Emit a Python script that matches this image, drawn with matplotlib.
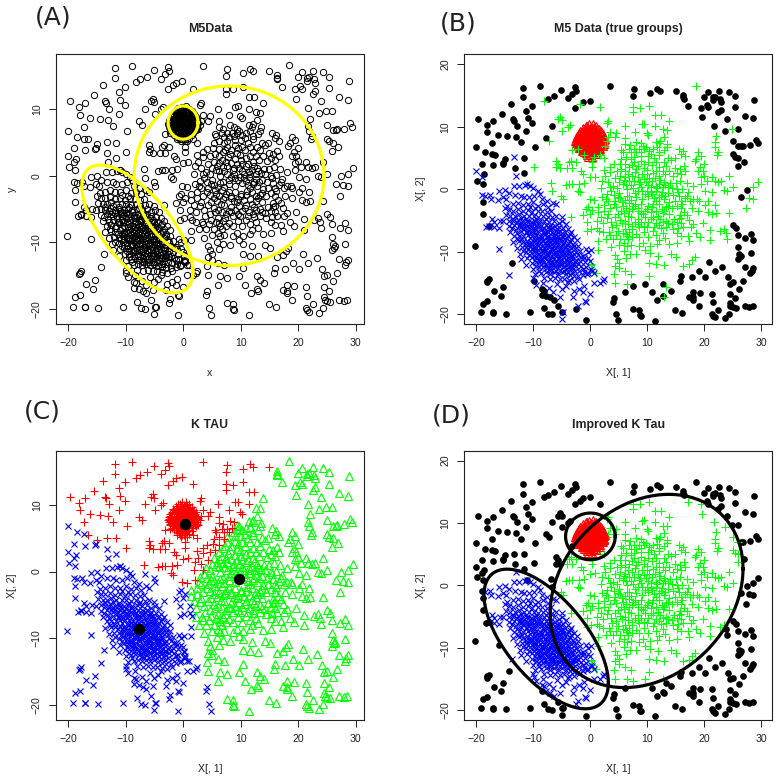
import numpy as np
import matplotlib
matplotlib.use('Agg')
import matplotlib.pyplot as plt

plt.rcParams['font.family'] = ['Liberation Sans', 'DejaVu Sans']

noise_pts = [
(-11.8,16.2),(-8.8,16.5),(-5.1,15.9),(-2.7,16.3),(-2.4,15.8),(-3.1,15.3),(-3.9,14.6),(-6.3,14.9),(-7.4,14.5),
(-11.8,14.7),(-13.9,13.6),(-10.1,13.4),(-11.2,12.6),(-15.4,12.1),(-19.6,11.2),(-17.1,11.0),(-13.5,11.2),(-13.4,11.0),
(-10.9,11.4),(-18.1,10.3),(-12.8,10.1),(-10.1,10.6),(-6.7,10.1),(-18.0,9.2),(-11.2,9.3),(-16.1,8.7),(-14.5,8.5),
(-13.0,8.4),(-7.7,8.2),(-12.1,7.5),(-17.2,7.4),(-20.0,6.8),(-9.7,6.8),(-18.4,5.9),(-17.2,5.6),(-16.6,5.5),(-15.0,4.8),
(-15.2,4.2),(-11.6,5.0),(-18.9,4.1),(-17.1,3.9),(-15.3,4.0),(-13.2,3.4),(-18.6,2.5),(-11.6,2.6),(-19.8,1.3),(-18.8,0.9),
(-18.8,-2.1),(-18.8,-4.0),(-17.8,-5.9),(-20.2,-9.0),(-13.7,-11.8),(-9.9,-14.7),(-17.7,-14.4),(-18.0,-14.6),(-18.1,-14.8),
(-15.3,-15.7),(-16.8,-16.3),(-15.7,-17.0),(-18.8,-18.3),(-18.0,-17.9),(-19.2,-19.7),(-17.1,-19.7),(-17.0,-19.8),
(-14.8,-19.9),(-10.5,-19.7),(-8.5,-16.0),(-8.1,-16.2),(-8.5,-16.9),(-7.7,-17.0),(-7.0,-17.3),(-6.4,-17.7),(-5.6,-18.7),
(-8.0,-19.0),(-7.3,-19.9),(-6.6,-20.0),(-4.9,-19.7),(-2.5,-19.1),(-0.8,-20.9),(-1.2,14.0),(-0.1,14.2),(-2.6,13.0),
(3.5,16.5),(7.7,16.0),(7.5,15.0),(10.5,15.4),(11.7,16.1),(12.2,15.7),(15.0,15.7),(16.3,15.1),(16.3,14.7),(16.4,14.5),
(17.2,13.4),(20.7,15.6),(20.0,14.8),(22.6,15.7),(24.3,15.6),(25.4,14.9),(21.6,14.7),(21.9,14.8),(21.5,14.3),(22.7,14.5),
(22.9,14.0),(20.4,13.5),(20.7,13.1),(19.5,13.0),(25.4,13.2),(23.0,12.7),(22.5,12.3),(19.6,11.5),(27.1,11.8),(28.8,14.3),
(28.6,11.4),(24.0,11.2),(21.7,10.2),(25.9,9.7),(23.7,9.4),(25.0,7.7),(29.0,7.9),(29.4,7.4),(28.0,7.1),(26.0,6.9),(26.5,6.9),
(26.8,7.0),(25.1,5.6),(25.4,5.2),(26.0,5.0),(25.9,3.7),(27.0,4.3),(27.5,-0.1),(26.5,-1.3),(25.1,-5.7),(25.5,-6.2),
(25.9,-7.3),(28.2,-7.1),(27.2,-7.8),(28.6,-8.1),(25.9,-9.2),(28.2,-10.2),(26.1,-10.3),(26.4,-10.6),(25.9,-11.2),(26.3,-10.8),
(27.1,-12.5),(28.6,-12.6),(28.4,-13.0),(28.1,-13.4),(20.9,-11.7),(23.2,-12.4),(19.1,-13.1),(21.8,-13.1),(17.8,-14.0),
(20.2,-14.0),(24.2,-14.1),(25.1,-14.9),(24.5,-15.1),(26.8,-14.6),(26.1,-15.9),(15.9,-13.9),(15.8,-14.6),(7.6,-15.4),
(9.7,-15.1),(12.8,-15.1),(14.1,-16.2),(12.8,-17.1),(10.8,-16.5),(11.8,-17.7),(6.1,-16.4),(4.2,-17.4),(4.0,-18.0),
(18.1,-16.5),(17.3,-17.2),(18.1,-17.3),(19.3,-16.6),(18.0,-17.7),(21.3,-16.7),(21.5,-18.1),(24.5,-16.8),(25.4,-17.4),
(19.0,-18.7),(24.5,-18.2),(24.6,-18.7),(25.1,-18.9),(25.5,-19.0),(22.5,-19.3),(27.1,-18.7),(27.9,-18.8),(28.5,-18.7),
(7.6,-19.2),(8.6,-19.3),(8.7,-20.1),(8.9,-20.2),(14.9,-19.3),(16.1,-19.8),(21.3,-19.9),(21.6,-20.2),(21.9,-20.5),
(24.4,-19.9),(23.6,-20.6),(4.5,-19.9),(4.9,-20.9),(11.4,-21.0),
]

red_pts = [
(-0.2,10.4),(0.5,10.5),(-0.8,10.2),(1.0,10.1),(0.1,10.0),(-1.2,9.8),(-0.4,9.8),(0.7,9.7),(1.5,9.7),(-1.7,9.4),(-0.9,9.4),
(0.0,9.5),(1.1,9.3),(1.9,9.3),(-2.0,9.0),(-1.3,9.1),(-0.5,9.0),(0.4,9.1),(1.5,8.9),(2.2,8.9),(-2.3,8.6),(-1.6,8.6),
(-0.8,8.7),(0.1,8.6),(0.9,8.7),(1.8,8.5),(2.4,8.4),(-2.5,8.2),(-1.9,8.2),(-1.1,8.3),(-0.3,8.2),(0.5,8.3),(1.3,8.2),
(2.0,8.1),(2.6,8.0),(-2.6,7.8),(-1.7,7.8),(-0.9,7.8),(-0.1,7.8),(0.8,7.9),(1.6,7.7),(2.3,7.7),(-2.4,7.4),(-1.9,7.4),
(-1.2,7.4),(-0.5,7.5),(0.3,7.4),(1.1,7.4),(1.9,7.3),(2.5,7.2),(-2.2,7.0),(-1.5,7.0),(-0.7,7.1),(0.0,7.0),(0.7,7.0),
(1.4,7.0),(2.2,6.9),(-1.9,6.6),(-1.1,6.7),(-0.3,6.6),(0.4,6.7),(1.1,6.6),(1.8,6.5),(-1.5,6.2),(-0.8,6.3),(0.0,6.2),
(0.8,6.3),(1.5,6.1),(-1.0,5.9),(-0.2,5.8),(0.5,5.9),(1.0,5.7),(-0.6,5.5),(0.2,5.5),(-0.3,5.2),(0.3,5.2),(-1.5,8.0),
(-0.6,8.5),(0.3,8.0),(1.0,8.5),(-1.4,7.6),(0.6,7.6),(-0.2,7.2),(1.6,8.0),(-0.4,6.9),(1.0,6.9),(-2.0,7.7),(-1.0,9.0),
(0.6,8.9),(0.2,9.3),(-0.1,6.4),(-1.3,6.5),(0.9,7.2),(1.3,7.6),(-0.7,7.3),(-1.6,8.4),(2.1,7.5),(0.0,8.4),(-0.3,9.2),
(1.3,9.0),(-1.8,7.1),(0.4,6.4),(-2.2,8.4),(0.7,10.0),(-0.5,10.1),
(-1.1,9.6),(0.3,9.8),(1.2,9.6),(-0.2,9.6),(-1.5,9.2),(-0.7,9.2),(0.8,9.2),(1.7,9.1),(-1.9,8.8),(-1.2,8.8),(-0.2,8.9),
(0.3,8.8),(1.2,8.7),(2.0,8.7),(-2.1,8.0),(-1.3,8.1),(-0.5,8.0),(0.1,8.2),(0.8,8.1),(1.5,8.4),(2.3,8.2),(-2.3,7.6),
(-1.6,7.3),(-1.1,7.9),(-0.3,7.6),(0.4,7.7),(1.0,7.7),(1.8,7.9),(2.4,7.5),(-1.9,7.0),(-1.3,7.2),(-0.9,6.9),(-0.1,7.4),
(0.5,7.2),(1.2,7.2),(1.7,7.1),(-1.7,6.8),(-0.8,6.6),(0.1,6.8),(0.8,6.8),(1.5,6.6),(-1.2,6.3),(-0.5,6.2),(0.3,6.1),
(1.1,6.2),(-0.7,5.8),(0.1,5.9),(0.7,5.6),(-0.1,5.5),(-2.4,7.9),(-2.2,7.2),(2.4,7.9),(2.0,7.0),(-0.6,9.5),(0.5,9.4),
]

green_pts = [
(18.5,16.6),(-8.1,14.1),(-1.7,13.6),(1.8,13.1),(10.4,13.4),(8.7,13.0),(7.5,13.1),(7.5,12.3),(11.4,11.9),(12.4,11.9),
(13.9,11.0),(3.1,11.0),(2.9,10.6),(-5.2,11.6),(-5.0,11.1),(-5.6,11.2),(-3.5,10.3),(-3.8,10.0),(-4.9,9.3),(-7.2,7.7),
(4.6,9.0),(3.5,9.2),(6.1,10.1),(9.1,10.4),(9.5,10.5),(11.4,10.1),(12.7,9.6),(13.4,9.5),(12.9,8.4),(9.9,9.0),(10.2,8.7),
(7.9,9.2),(6.2,8.2),(4.4,8.3),(2.9,7.7),(3.2,8.3),(2.6,7.0),(11.5,7.6),(12.0,7.4),(12.2,7.8),(13.5,7.3),(13.4,6.8),
(8.9,7.4),(9.3,7.0),(7.0,7.1),(6.2,7.3),(5.5,6.3),(5.8,6.0),(7.7,6.4),(8.5,6.5),(9.4,6.4),(10.3,6.2),(11.0,6.5),(12.1,6.0),
(13.0,6.3),(15.5,6.5),(16.2,6.1),(15.9,5.7),(16.6,5.3),(14.8,5.0),(13.7,5.0),(14.2,4.7),(12.1,5.5),(11.2,5.0),(10.1,5.4),
(9.0,5.4),(7.7,5.2),(6.3,5.2),(5.4,4.9),(-3.2,6.3),(-2.2,6.4),(-1.0,5.5),(0.6,5.2),(1.8,5.5),(2.4,5.0),(0.3,4.4),(0.4,3.5),
(-5.9,4.6),(-5.7,4.0),(-5.3,3.4),(-6.0,3.5),(-4.0,3.4),(-3.7,4.3),(-3.3,4.6),(-2.4,4.3),(-3.2,3.4),(-1.6,3.0),(-1.2,2.5),
(-9.9,3.6),(6.2,4.0),(5.2,4.1),(4.2,4.0),(3.5,3.6),(2.5,3.1),(2.6,2.1),(3.5,2.8),(4.7,3.0),(5.5,3.2),(6.9,3.5),(7.7,4.4),
(8.4,3.8),(9.5,4.1),(10.8,3.9),(12.1,3.6),(13.3,3.8),(14.9,3.4),(16.4,3.7),(16.7,2.9),(18.3,4.5),(18.9,5.9),(18.6,4.9),
(19.5,5.4),(19.2,3.6),(20.0,4.1),(19.7,3.0),(19.9,2.2),(18.9,3.0),(19.4,1.9),(20.5,1.3),(21.3,2.0),(21.8,1.3),(22.4,1.2),
(22.9,1.3),(24.4,2.1),(25.0,0.3),(24.0,-0.2),(23.5,-0.1),(21.9,6.8),(22.4,6.0),(22.3,5.5),(21.8,7.5),(22.0,8.6),(24.9,9.7),
(29.5,1.2),(28.6,0.3),(27.8,-1.4),(28.6,-1.5),(27.3,-3.0),(24.3,-3.8),(22.0,-3.8),(21.9,-2.5),(21.3,-3.9),(20.6,-3.7),
(20.1,-2.5),(20.7,-1.8),(21.4,-0.5),(20.2,-0.2),(19.5,0.8),(18.0,0.6),(16.9,1.0),(15.8,1.3),(15.0,1.0),(15.2,0.0),(14.6,2.2),
(13.2,2.4),(12.1,2.1),(11.0,2.6),(10.0,2.4),(9.1,2.5),(7.8,2.8),(6.7,2.4),(5.3,2.1),(4.3,1.8),(3.2,1.1),(2.0,1.4),(0.9,2.0),
(0.0,1.9),(-1.0,1.0),(-1.9,0.9),(-3.1,0.8),(-3.7,0.8),(-4.3,0.7),(-6.8,1.0),(-11.0,0.8),(-2.1,-0.2),(-1.8,-0.5),(-6.6,-0.3),
(-5.1,-1.0),(-4.8,-1.5),(1.9,0.2),(4.0,0.5),(5.7,0.9),(6.9,1.3),(7.7,1.4),(8.8,1.2),(9.8,1.1),(10.9,1.4),(12.0,0.8),(13.1,0.7),
(14.0,1.0),(16.1,0.1),(17.2,-0.5),(17.0,-1.0),(18.0,-1.6),(18.7,-1.6),(19.0,-1.8),(17.5,-1.9),(16.0,-1.8),(14.8,-1.8),
(13.7,-0.6),(12.6,-0.5),(11.5,-0.2),(10.6,-0.4),(9.6,-0.7),(8.4,-0.2),(7.6,0.2),(6.4,0.0),(5.1,-0.6),(4.2,-0.9),(3.0,-0.8),
(2.1,-1.2),(0.7,-1.7),(-0.1,-1.6),(-0.3,-2.8),(-0.7,-3.1),(0.4,-3.3),(1.4,-2.8),(2.4,-2.5),(3.1,-1.9),(4.3,-1.8),(5.3,-1.4),
(6.1,-1.7),(6.9,-1.0),(8.0,-1.3),(9.1,-1.5),(10.2,-1.1),(11.2,-1.4),(12.1,-1.2),(12.9,-1.6),(13.9,-2.0),(15.2,-2.6),(15.9,-3.0),
(14.4,-3.0),(13.3,-2.9),(12.0,-2.4),(11.1,-2.3),(10.1,-2.7),(9.0,-2.4),(7.9,-2.4),(6.8,-2.2),(5.8,-2.7),(4.6,-2.9),(3.5,-3.0),
(2.4,-3.4),(1.3,-3.7),(0.0,-4.0),(-1.2,-4.1),(-3.3,-4.4),(1.9,-4.4),(3.0,-4.6),(4.3,-4.4),(5.9,-3.8),(6.9,-3.5),(8.4,-3.4),
(9.6,-3.5),(10.6,-3.6),(11.6,-3.5),(12.7,-3.8),(13.8,-4.0),(15.7,-4.1),(16.5,-3.6),(17.0,-4.1),(17.8,-3.0),(18.9,-3.4),
(15.6,-4.7),(14.7,-4.7),(12.3,-4.7),(11.0,-4.4),(9.7,-4.5),(8.4,-4.7),(7.1,-4.4),(5.3,-4.9),(3.6,-5.2),(2.3,-5.4),(1.2,-5.1),
(-0.6,-5.2),(-0.6,-6.7),(0.1,-6.3),(1.2,-6.2),(1.6,-6.6),(3.8,-6.0),(4.6,-5.7),(5.6,-5.4),(6.7,-5.5),(7.9,-5.3),(9.0,-5.2),
(10.2,-5.3),(11.5,-5.4),(12.7,-5.2),(13.7,-5.4),(15.9,-5.4),(17.3,-4.9),(19.7,-5.4),(18.1,-5.6),(17.6,-6.0),(16.3,-6.1),
(15.4,-6.2),(14.5,-6.3),(13.3,-6.1),(12.4,-6.2),(11.2,-6.0),(9.9,-6.1),(8.6,-6.0),(7.3,-6.3),(6.1,-6.4),(4.9,-6.6),(3.3,-6.9),
(2.3,-6.9),(3.4,-7.3),(4.5,-7.3),(5.8,-7.0),(6.9,-6.8),(8.0,-7.1),(9.5,-6.8),(11.6,-7.3),(12.7,-7.0),(15.2,-7.0),(16.0,-7.4),
(17.1,-7.4),(18.6,-7.0),(19.3,-7.6),(21.0,-6.5),(22.8,-6.7),(23.5,-6.3),(23.8,-7.0),(21.0,-8.1),(24.0,-7.9),(17.4,-8.3),
(15.2,-8.6),(13.9,-8.8),(11.7,-8.7),(10.5,-9.0),(9.3,-8.6),(8.6,-9.1),(6.7,-8.0),(6.0,-8.6),(5.0,-8.9),(4.0,-8.0),(2.7,-8.0),
(1.3,-8.3),(1.4,-9.7),(3.6,-9.3),(5.9,-9.9),(7.0,-10.3),(8.1,-10.4),(9.7,-9.7),(10.5,-10.2),(11.9,-10.6),(14.2,-10.4),
(15.1,-10.8),(18.3,-10.9),(17.9,-11.3),(17.4,-11.9),(16.3,-12.2),(13.0,-12.1),(11.6,-12.0),(10.4,-11.8),(6.3,-11.0),
(4.4,-10.5),(4.7,-11.2),(5.0,-11.8),(4.4,-12.2),(5.0,-12.6),(0.2,-11.9),(0.4,-12.7),(0.1,-12.1),(1.0,-13.4),(4.1,-13.6),
(6.1,-13.1),(7.2,-13.5),(10.4,-13.9),(4.3,-15.0),(6.4,-15.1),(13.3,-15.7),(13.0,-17.3),(8.4,-3.0),(9.9,-0.2),(7.2,0.7),
(6.2,1.9),(8.9,0.3),(10.6,0.3),(11.5,0.6),(7.5,-2.7),(6.6,-4.3),(9.3,-4.0),(10.9,-2.9),(12.6,-3.1),(4.9,-4.0),(3.1,-3.9),
(14.3,0.2),(13.2,-1.0),(12.3,1.5),(9.4,3.4),(7.1,5.9),(8.1,7.6),(5.0,1.2),(3.4,0.3),
(11.7,0.2),(12.4,-0.9),(10.9,-0.8),(11.6,-1.8),(12.7,0.3),(10.2,0.7),(9.1,-0.3),(8.6,0.8),(7.9,-0.6),(7.1,-1.7),(6.4,-1.1),
(5.6,-2.1),(4.9,-1.3),(4.1,-2.4),(5.4,-3.4),(6.3,-3.0),(7.3,-3.2),(8.9,-3.8),(10.0,-3.1),(11.9,-4.2),(13.0,-3.4),(13.7,-2.6),
(14.6,-0.9),(15.6,-1.1),(16.6,-1.4),(15.4,-0.4),(13.6,0.4),(12.9,1.2),(11.3,1.8),(10.3,1.8),(9.4,1.7),(8.4,1.9),(7.4,2.1),
(5.9,1.5),(4.7,0.2),(3.7,-0.3),(2.7,-1.6),(6.3,0.7),(8.1,3.2),(9.9,3.1),(11.6,3.0),(12.7,3.0),(13.9,2.9),(15.3,2.6),(15.7,3.2),
(16.0,2.4),(6.2,3.0),(7.3,3.9),(10.2,4.4),(11.6,4.4),(12.9,4.4),(9.0,4.6),(8.0,5.9),(8.9,6.0),(10.7,5.7),(9.8,6.8),(11.7,6.7),
(7.2,4.9),(6.8,6.4),(6.1,-5.1),(7.4,-5.8),(8.4,-5.5),(9.5,-5.8),(10.7,-4.8),(11.0,-6.6),(12.1,-5.7),(13.3,-5.0),(14.3,-5.6),
(15.3,-5.3),(15.9,-4.6),(16.1,-2.3),(6.5,-7.5),(7.4,-7.6),(5.3,-8.0),(6.3,-7.1),(8.6,-7.6),(10.2,-7.6),(12.0,-8.1),(13.1,-7.8),
(6.4,-9.1),(7.2,-8.9),
]

blue_pts = [
(-20.0,2.9),(-18.9,2.0),(-13.3,5.1),(-13.0,2.1),(-13.4,0.6),(-11.0,0.9),(-18.9,-0.9),(-18.5,-1.1),(-16.0,-0.2),(-15.0,-0.1),
(-16.0,-9.5),(-14.3,-13.7),(-18.2,-6.0),(-17.7,-5.8),(-17.2,-4.7),(-16.8,-5.2),(-16.9,-6.1),(-15.8,-5.0),(-16.0,-6.2),(-5.0,-20.8),
(-4.7,-19.7),(-2.2,-18.6),(-0.9,-17.9),(-0.7,-18.1),(0.0,-16.8),(-1.2,-16.5),(-2.0,-16.0),(-2.8,-16.3),(-3.0,-17.2),(-1.0,-15.5),
(0.7,-15.0),(1.7,-15.0),(2.2,-14.6),(2.5,-14.3),(-5.0,-16.0),(-4.3,-15.5),(-5.8,-15.2),(-7.2,-15.8),(-8.3,-15.0),(-9.5,-15.3),
(-10.0,-14.2),(-6.5,-16.5),(-5.2,-17.2),(-3.9,-14.9),(-15.2,-1.3),(-14.2,-0.6),(-17.3,-1.6),(-17.5,-0.9),(-16.2,-1.7),(-14.7,-1.6),
(-13.2,-0.9),(-12.4,0.6),(-11.4,0.7),(-10.6,0.6),(-10.0,0.2),(-9.2,-0.2),(-8.8,-0.7),(-9.8,-1.0),(-10.7,-1.2),(-11.6,-1.3),
(-12.1,-1.0),(-8.5,-1.6),(-7.6,-1.8),(-6.5,-2.2),(-5.9,-2.4),(-14.5,-2.6),(-13.6,-2.4),(-12.7,-2.2),(-11.8,-2.5),(-10.9,-2.4),
(-10.0,-2.1),(-9.1,-2.6),(-8.2,-2.4),(-7.3,-2.8),(-15.0,-3.0),(-14.3,-3.3),(-13.5,-3.4),(-12.7,-3.2),(-11.8,-3.5),(-10.9,-3.3),
(-10.1,-3.6),(-9.2,-3.4),(-8.4,-3.5),(-7.5,-3.7),(-6.8,-3.5),(-5.9,-4.3),(-5.0,-4.5),(-14.8,-4.1),(-14.0,-4.2),(-13.2,-4.3),
(-12.5,-4.0),(-11.6,-4.2),(-10.7,-4.3),(-9.9,-4.2),(-9.1,-4.4),(-8.2,-4.2),(-7.4,-4.5),(-6.6,-4.4),(-4.9,-5.1),(-15.2,-5.1),
(-14.3,-5.0),(-13.5,-5.1),(-12.7,-4.9),(-11.9,-5.1),(-11.1,-5.0),(-10.3,-5.2),(-9.6,-5.0),(-8.8,-5.1),(-8.0,-5.0),(-7.2,-5.2),
(-6.3,-5.0),(-5.5,-5.4),(-4.2,-5.5),(-14.2,-5.9),(-13.3,-5.7),(-12.5,-5.8),(-11.8,-5.6),(-11.0,-5.8),(-10.2,-5.9),(-9.4,-5.7),
(-8.6,-5.9),(-7.8,-5.7),(-7.0,-5.9),(-6.2,-5.8),(-5.5,-6.0),(-4.7,-6.2),(-3.9,-6.4),(-3.3,-6.8),(-14.0,-6.8),(-13.0,-6.5),
(-12.2,-6.7),(-11.5,-6.4),(-10.7,-6.6),(-10.0,-6.4),(-9.2,-6.6),(-8.4,-6.4),(-7.6,-6.6),(-6.8,-6.4),(-6.0,-6.7),(-5.2,-6.6),
(-4.4,-6.9),(-3.6,-7.2),(-2.8,-7.6),(-13.3,-7.5),(-12.5,-7.4),(-11.7,-7.5),(-10.9,-7.3),(-10.2,-7.5),(-9.4,-7.3),(-8.7,-7.5),
(-7.9,-7.2),(-7.2,-7.4),(-6.4,-7.3),(-5.6,-7.5),(-4.9,-7.4),(-4.1,-7.8),(-3.3,-8.0),(-2.3,-8.1),(-13.5,-8.5),(-12.5,-8.3),
(-11.8,-8.4),(-11.0,-8.2),(-10.3,-8.4),(-9.6,-8.1),(-8.9,-8.3),(-8.2,-8.1),(-7.4,-8.3),(-6.7,-8.1),(-6.0,-8.3),(-5.3,-8.1),
(-4.6,-8.4),(-3.8,-8.6),(-3.0,-8.7),(-2.2,-9.0),(-12.9,-9.4),(-12.0,-9.2),(-11.2,-9.3),(-10.5,-9.0),(-9.8,-9.2),(-9.1,-8.9),
(-8.4,-9.1),(-7.7,-8.9),(-7.0,-9.1),(-6.3,-8.9),(-5.6,-9.1),(-4.9,-9.0),(-4.2,-9.3),(-3.4,-9.4),(-2.6,-9.6),(-1.8,-9.8),
(-0.7,-9.5),(-0.3,-10.0),(0.1,-9.7),(-12.3,-10.3),(-11.2,-10.1),(-10.5,-9.9),(-9.8,-10.1),(-9.2,-9.7),(-8.5,-9.9),(-7.8,-9.7),
(-7.1,-9.9),(-6.4,-9.7),(-5.7,-9.9),(-5.0,-9.8),(-4.3,-10.1),(-3.6,-10.2),(-2.9,-10.4),(-2.1,-10.5),(-1.3,-10.7),(-0.4,-11.0),
(-12.1,-11.2),(-11.0,-11.0),(-10.2,-10.8),(-9.5,-10.9),(-8.8,-10.6),(-8.1,-10.8),(-7.4,-10.5),(-6.7,-10.7),(-6.0,-10.5),
(-5.3,-10.7),(-4.6,-10.8),(-3.9,-11.0),(-3.2,-11.2),(-2.5,-11.3),(-1.7,-11.5),(-0.9,-11.7),(0.0,-11.4),(-11.2,-12.1),(-10.1,-11.8),
(-9.4,-11.7),(-8.7,-11.5),(-8.0,-11.7),(-7.3,-11.4),(-6.6,-11.6),(-5.9,-11.4),(-5.2,-11.6),(-4.5,-11.7),(-3.8,-11.9),(-3.1,-12.0),
(-2.4,-12.2),(-1.6,-12.3),(-0.8,-12.5),(0.1,-12.8),(-10.0,-12.7),(-9.0,-12.5),(-8.3,-12.4),(-7.6,-12.6),(-6.9,-12.3),(-6.2,-12.5),
(-5.5,-12.3),(-4.8,-12.5),(-4.1,-12.7),(-3.4,-12.8),(-2.7,-13.0),(-1.9,-13.1),(-1.1,-13.2),(-0.3,-13.4),(0.6,-13.4),(-9.6,-13.6),
(-8.6,-13.4),(-7.8,-13.3),(-7.1,-13.5),(-6.4,-13.3),(-5.7,-13.5),(-5.0,-13.3),(-4.3,-13.6),(-3.6,-13.7),(-2.9,-13.9),(-2.1,-13.9),
(-1.3,-13.7),(-0.5,-13.6),(0.4,-13.0),(-8.0,-14.2),(-7.0,-14.4),(-6.1,-14.2),(-5.3,-14.4),(-4.5,-14.3),(-3.7,-14.5),(-2.8,-14.6),
(-1.9,-14.3),(-10.6,-2.9),(-9.6,-3.0),(-11.2,-4.7),(-9.4,-4.7),(-7.7,-4.8),(-12.3,-5.5),(-10.6,-5.5),(-8.9,-5.5),(-7.4,-6.0),
(-5.8,-6.3),(-11.3,-6.9),(-9.8,-6.9),(-8.1,-7.0),(-6.6,-6.9),(-5.0,-7.0),(-10.6,-7.8),(-9.1,-7.8),(-7.6,-7.7),(-6.1,-7.8),
(-4.5,-8.0),(-10.1,-8.7),(-8.6,-8.6),(-7.1,-8.6),(-5.6,-8.7),(-4.1,-8.9),(-9.6,-9.5),(-8.1,-9.4),(-6.6,-9.4),(-5.1,-9.5),
(-3.7,-9.8),(-9.1,-10.3),(-7.6,-10.2),(-6.1,-10.1),(-4.6,-10.4),(-3.1,-10.8),(-8.6,-11.1),(-7.0,-11.0),(-5.5,-11.1),(-4.1,-11.4),
(-2.7,-11.7),(-7.9,-12.0),(-6.5,-12.0),(-5.0,-12.0),(-3.6,-12.3),(-6.8,-12.9),(-5.3,-12.9),(-3.9,-13.2),
(-12.9,-5.3),(-11.5,-6.0),(-10.7,-6.1),(-9.9,-5.6),(-9.1,-6.1),(-8.3,-6.8),(-10.4,-7.0),(-11.1,-6.9),(-9.6,-7.7),(-8.4,-7.7),
(-7.3,-6.8),(-6.9,-7.8),(-6.3,-7.6),(-9.9,-8.5),(-9.3,-8.4),(-8.6,-8.0),(-7.9,-8.6),(-7.3,-8.0),(-6.4,-8.5),(-5.9,-7.9),(-5.2,-7.8),
(-4.8,-8.7),(-9.4,-9.3),(-8.8,-9.4),(-8.2,-9.7),(-7.5,-9.4),(-6.9,-9.5),(-6.1,-9.4),(-5.4,-9.6),(-4.7,-9.5),(-4.0,-9.6),(-8.9,-10.4),
(-8.2,-10.2),(-7.2,-10.2),(-6.5,-10.3),(-5.8,-10.3),(-5.1,-10.2),(-4.2,-10.5),(-3.4,-10.7),(-8.4,-11.3),(-7.7,-11.0),(-7.0,-11.3),
(-6.3,-11.1),(-5.7,-11.0),(-4.9,-11.3),(-4.3,-11.1),(-3.5,-11.6),(-2.9,-11.9),(-7.5,-12.1),(-6.8,-11.9),(-6.1,-12.0),(-5.3,-11.9),
(-4.6,-12.2),(-3.9,-12.4),(-3.2,-12.4),(-7.2,-12.9),(-6.0,-13.0),(-4.6,-13.0),(-3.2,-13.3),(-11.9,-7.9),(-11.3,-8.7),(-10.7,-8.7),
(-11.8,-9.9),(-10.8,-9.5),(-10.2,-9.5),(-10.7,-10.5),(-9.8,-10.6),(-9.7,-11.3),(-9.0,-11.1),(-9.4,-12.2),(-8.6,-12.0),(-8.9,-13.0),
(-13.7,-6.2),(-12.9,-7.0),(-12.7,-8.0),(-13.6,-4.7),(-12.2,-4.6),(-12.1,-6.1),(-10.9,-5.3),(-9.6,-6.3),(-8.1,-6.2),(-6.6,-6.1),
(-7.1,-6.5),(-5.6,-6.9),(-4.8,-7.7),(-3.9,-7.4),(-3.5,-8.5),(-2.9,-9.1),(-2.4,-10.0),(-1.6,-10.8),(-1.1,-11.0),(-2.1,-12.0),(-1.2,-12.7),
]

# cluster centres for K TAU
ktau_centers = [(-7.6, -8.7), (0.3, 7.1), (9.8, -1.1)]
x_ticks = [-20, -10, 0, 10, 20, 30]
y_ticks_a = [-20, -10, 0, 10]
y_ticks_b = [-20, -10, 0, 10, 20]

noise = np.array(noise_pts)
red = np.array(red_pts)
green = np.array(green_pts)
blue = np.array(blue_pts)
everything = np.vstack([noise, red, green, blue])

W, H = 780, 778
INK = '#222222'
LIME = '#00ff00'


def make_axes(left, right, top, bottom, xlim, ylim, yticks):
    ax = fig.add_axes([left / W, 1 - bottom / H, (right - left) / W, (bottom - top) / H])
    ax.set_xlim(xlim)
    ax.set_ylim(ylim)
    ax.set_xticks(x_ticks)
    ax.set_yticks(yticks)
    ax.tick_params(length=5, width=0.7, labelsize=7.6, color=INK, labelcolor=INK, pad=5)
    plt.setp(ax.get_yticklabels(), rotation=90, va='center')
    for s in ax.spines.values():
        s.set_linewidth(0.8)
        s.set_color(INK)
    return ax


def labels(ax, title, xlab, ylab):
    ax.set_title(title, fontsize=8.9, fontweight='bold', color=INK, pad=16)
    ax.set_xlabel(xlab, fontsize=7.6, color=INK, labelpad=14.5)
    ax.set_ylabel(ylab, fontsize=7.6, color=INK, labelpad=10.5)


def r_ellipse(ax, cx, cy, a, b, rho, color):
    t = np.linspace(0, 2 * np.pi, 200)
    x = cx + a * np.cos(t)
    y = cy + b * (rho * np.cos(t) + np.sqrt(1 - rho ** 2) * np.sin(t))
    ax.plot(x, y, color=color, lw=2.3, zorder=5)


def inside(pts, cx, cy, a, b, rho):
    u = (pts[:, 0] - cx) / a
    v = (pts[:, 1] - cy) / b
    return (u ** 2 - 2 * rho * u * v + v ** 2) / (1 - rho ** 2) <= 1


def plot_group(ax, pts, marker, color, ms, mew=0.8):
    ax.plot(pts[:, 0], pts[:, 1], ls='none', marker=marker, color=color, ms=ms, mew=mew, mfc='none')


def plot_solid(ax, pts, ms=4.8):
    ax.plot(pts[:, 0], pts[:, 1], ls='none', marker='o', color='black', ms=ms, mew=0)


fig = plt.figure(figsize=(7.8, 7.78), dpi=100)

# (A) all the data with the ellipses over it
ax = make_axes(55.7, 364, 54.3, 324, (-22.14, 31.45), (-22.3, 18.27), y_ticks_a)
plot_group(ax, everything, 'o', 'black', 4.5, 0.7)
r_ellipse(ax, 8.0, 0.0, 16.5, 13.5, 0.0, 'yellow')
r_ellipse(ax, -7.95, -8.0, 9.65, 9.6, -0.668, 'yellow')
r_ellipse(ax, 0.0, 8.0, 2.6, 2.5, 0.0, 'yellow')
labels(ax, 'M5Data', 'x', 'y')

# (B) true groups
ax = make_axes(464.3, 772.3, 54.3, 324, (-22.05, 31.93), (-21.55, 21.6), y_ticks_b)
plot_solid(ax, noise)
plot_group(ax, red, '^', 'red', 5.6)
plot_group(ax, green, '+', LIME, 6.0)
plot_group(ax, blue, 'x', 'blue', 4.2)
labels(ax, 'M5 Data (true groups)', 'X[, 1]', 'X[, 2]')

# (C) K TAU partition, three sectors around where the cells meet
jx, jy = 0.8, -3.0
dx = everything[:, 0] - jx
dy = everything[:, 1] - jy
rg = (16.0 - jx) * dy - (15.5 - jy) * dx      # > 0 above the red/green edge
rb = (-20.0 - jx) * dy - (7.0 - jy) * dx      # < 0 above the red/blue edge
gb = (5.5 - jx) * dy - (-21.0 - jy) * dx      # > 0 right of the green/blue edge
is_red = (rg > 0) & (rb < 0)
is_green = (rg <= 0) & (gb > 0)
is_blue = ~(is_red | is_green)

ax = make_axes(55.7, 364, 450.7, 720, (-22.14, 31.45), (-22.3, 18.16), y_ticks_a)
plot_group(ax, everything[is_green], '^', LIME, 5.4)
plot_group(ax, everything[is_red], '+', 'red', 6.0)
plot_group(ax, everything[is_blue], 'x', 'blue', 4.2)
for cx, cy in ktau_centers:
    ax.plot(cx, cy, 'o', color='black', ms=8.2, mew=0, zorder=6)
labels(ax, 'K TAU', 'X[, 1]', 'X[, 2]')

# (D) improved K tau, points belong to whichever ellipse holds them, the rest is noise
green_e = (9.9, -0.9, 16.9, 15.5, 0.23)
blue_e = (-7.7, -8.6, 10.9, 11.2, -0.63)
red_e = (0.05, 7.85, 4.35, 3.75, 0.0)
g_in = inside(green, *green_e)
b_in = inside(blue, *blue_e)
n_in_g = inside(noise, *green_e)
n_in_b = inside(noise, *blue_e)

ax = make_axes(464.3, 772.3, 450.7, 720, (-22.05, 31.93), (-21.6, 21.6), y_ticks_b)
plot_solid(ax, np.vstack([noise[~(n_in_g | n_in_b)], green[~g_in], blue[~b_in]]))
plot_group(ax, np.vstack([green[g_in], noise[n_in_g]]), '+', LIME, 6.0)
plot_group(ax, red, '^', 'red', 5.6)
plot_group(ax, np.vstack([blue[b_in], noise[n_in_b]]), 'x', 'blue', 4.2)
r_ellipse(ax, *green_e, 'black')
r_ellipse(ax, *blue_e, 'black')
r_ellipse(ax, *red_e, 'black')
labels(ax, 'Improved K Tau', 'X[, 1]', 'X[, 2]')

# panel letters
for letter, px, py in [('(A)', 53, 18), ('(B)', 458, 23), ('(C)', 42, 412), ('(D)', 451, 416)]:
    fig.text(px / W, 1 - py / H, letter, fontsize=18, family='DejaVu Sans', ha='center', va='center', color=INK)

fig.savefig('out.png', dpi=100)
